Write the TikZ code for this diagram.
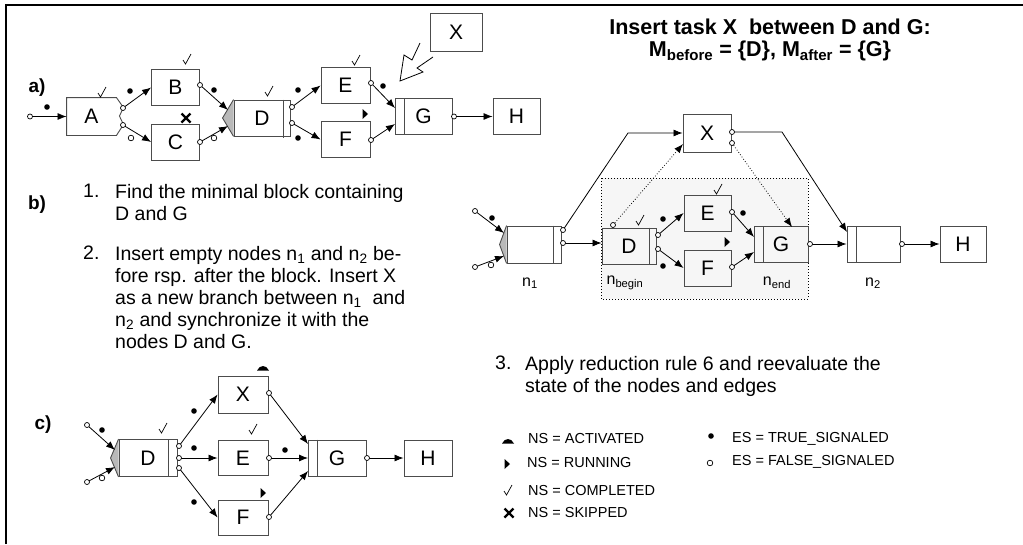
\documentclass[tikz,border=0pt]{standalone}
\usepackage{fontspec}
\setmainfont{Liberation Sans}
\usetikzlibrary{arrows.meta}

\tikzset{
  task/.style={draw=black!70, line width=0.9pt, inner sep=0pt, minimum width=48pt, minimum height=36pt, font=\fontsize{21}{21}\selectfont},
  flow/.style={line width=0.8pt, -{Latex[length=9pt,width=7pt]}},
  sync/.style={flow, dotted},
  bar/.style={draw=black!70, line width=0.9pt},
  wedge/.style={fill=gray!55, draw=black!70, line width=0.9pt},
  port/.style={draw=black, fill=white, line width=0.7pt},
  txt/.style={font=\fontsize{19.5}{22}\selectfont, inner sep=0pt, align=left, anchor=north west},
  lbl/.style={font=\bfseries\fontsize{19}{22}\selectfont, inner sep=0pt},
  headline/.style={font=\bfseries\fontsize{21.5}{26}\selectfont, inner sep=0pt},
  legend/.style={font=\fontsize{14.5}{16}\selectfont, inner sep=0pt, anchor=west},
  nlabel/.style={font=\fontsize{16}{16}\selectfont, inner sep=0pt},
  pics/tru/.style={code={\fill (0,0) circle [radius=2.8pt];}},
  pics/fal/.style={code={\draw[line width=0.7pt] (0,0) circle [radius=2.8pt];}},
  pics/done/.style={code={\draw[line width=0.7pt] (-4,0) -- (-1.5,4) -- (4,-6);}},
  pics/skip/.style={code={\draw[line width=2.2pt] (-4.5,-4.5) -- (4.5,4.5) (-4.5,4.5) -- (4.5,-4.5);}},
  pics/run/.style={code={\fill (-2.5,-5) -- (3,0) -- (-2.5,5) -- cycle;}},
  pics/act/.style={code={\fill (-6,2.5) .. controls (-3,-3.5) and (3,-3.5) .. (6,2.5) -- cycle;}}
}

\begin{document}
\begin{tikzpicture}[x=1pt, y=-1pt]
    \useasboundingbox (0,0) rectangle (1023,544);

    % frame
    \draw[line width=2.5pt] (6,544) -- (6,5) -- (1023,5);

    % ---------------- a) ----------------
    \node[lbl] (la) at (37,88) {a)};

    \coordinate (a0) at (30,116.5);
    \node[task, draw=none, minimum width=49pt, minimum height=37pt] (A) at (91.5,116.5) {A};
    \draw[bar] (A.north east) -- ++(7,10) -- ++(-4,8.5) -- ++(4,8.5) -- (A.south east) -- (A.south west) -- (A.north west) -- cycle;
    \node[task] (B) at (175.5,87.5) {B};
    \node[task] (C) at (175.5,142) {C};
    \node[task, minimum width=56pt] (Da) at (262,118) {D};
    \draw[bar] ([xshift=-7pt]Da.north east) -- ([xshift=-7pt,yshift=-2pt]Da.south east);
    \filldraw[wedge] (Da.north west) -- ([xshift=-11pt]Da.west) -- (Da.south west);
    \node[task, minimum width=49pt] (Ea) at (345.5,85.5) {E};
    \node[task, minimum width=49pt] (Fa) at (345.5,139.5) {F};
    \node[task, minimum width=57pt] (Ga) at (423.5,116.5) {G};
    \draw[bar] ([xshift=10pt]Ga.north west) -- ([xshift=10pt]Ga.south west);
    \node[task, minimum width=47pt] (Ha) at (516.5,116.5) {H};
    \node[task, minimum width=52pt, minimum height=38pt] (Xa) at (456,32) {X};

    % ports
    \coordinate (Ao1) at (123,108);
    \coordinate (Ao2) at (123,125);
    \coordinate (Bo) at (200,85);
    \coordinate (Co) at (200,142);
    \coordinate (Dai1) at (228,110);
    \coordinate (Dai2) at (228,126);
    \coordinate (Dao1) at (292,107);
    \coordinate (Dao2) at (292,123);
    \coordinate (Eao) at (371,83);
    \coordinate (Fao) at (371,140);
    \coordinate (Gai1) at (395,108);
    \coordinate (Gai2) at (395,124);
    \coordinate (Gao) at (454,116.5);

    % edges
    \draw[flow, shorten <=2.5pt] (a0) -- (A);
    \draw[flow] (Ao1) -- (B.west);
    \draw[flow] (Ao2) -- (C.west);
    \draw[flow] (Bo) -- (Dai1);
    \draw[flow] (Co) -- (Dai2);
    \draw[flow] (Dao1) -- (Ea.west);
    \draw[flow] (Dao2) -- (Fa.west);
    \draw[flow] (Eao) -- (Gai1);
    \draw[flow] (Fao) -- (Gai2);
    \draw[flow] (Gao) -- (Ha);
    \foreach \p in {a0,Ao1,Ao2,Bo,Co,Dao1,Dao2,Eao,Fao,Gao}
        \draw[port] (\p) circle [radius=2.5pt];

    % states
    \pic at (47,107) {tru};
    \pic at (130,91) {tru};
    \pic at (131,138) {fal};
    \pic at (214,90) {tru};
    \pic at (214,138) {fal};
    \pic at (298,90) {tru};
    \pic at (298,138) {tru};
    \pic at (383,86) {tru};
    \pic at (102,93) {done};
    \pic at (187,60) {done};
    \pic at (269,92) {done};
    \pic at (356,61) {done};
    \pic at (186,118) {skip};
    \pic at (365,114) {run};

    % hollow arrow
    \draw[line width=0.8pt] (420,43) -- (412,60) -- (404,55) -- (400,81) -- (423,72) -- (417,68) -- (433,57);

    % ---------------- b) ----------------
    \node[lbl] (lb) at (37,205) {b)};

    \node[txt] (s1n) at (83,184) {1.};
    \node[txt] (s1) at (115,184) {Find the minimal block containing\\D and G};
    \node[txt] (s2n) at (83,246) {2.};
    \node[txt] (s2) at (115,246) {Insert empty nodes n\textsubscript{1} and n\textsubscript{2} be-\\fore rsp. after the block. Insert X\\as a new branch between n\textsubscript{1}~ and\\n\textsubscript{2} and synchronize it with the\\nodes D and G.};

    \node[headline] (t1) at (770,27) {Insert task X~ between D and G:};
    \node[headline] (t2) at (770,51) {M\textsubscript{before} = \{D\}, M\textsubscript{after} = \{G\}};

    % block
    \draw[dotted, line width=1pt, fill=gray!7] (601,178) rectangle (808,299);

    \node[task, minimum width=54pt, minimum height=37pt] (n1) at (534,244.5) {};
    \draw[bar] ([xshift=-8pt]n1.north east) -- ([xshift=-8pt]n1.south east);
    \filldraw[wedge] (n1.north west) -- ([xshift=-7pt]n1.west) -- (n1.south west);
    \node[task, minimum width=48pt, minimum height=38pt] (Xb) at (707,133) {X};
    \node[task, minimum width=54pt] (Db) at (629,246) {D};
    \draw[bar] ([xshift=-7pt]Db.north east) -- ([xshift=-7pt]Db.south east);
    \node[task, minimum width=47pt] (Eb) at (707.5,213) {E};
    \node[task, minimum width=47pt] (Fb) at (707.5,268) {F};
    \node[task, minimum width=54pt] (Gb) at (781,244.5) {G};
    \draw[bar] ([xshift=10pt]Gb.north west) -- ([xshift=10pt]Gb.south west);
    \node[task, minimum width=53pt] (n2) at (873.5,244.5) {};
    \draw[bar] ([xshift=10pt]n2.north west) -- ([xshift=10pt]n2.south west);
    \node[task, minimum width=46pt] (Hb) at (963,244.5) {H};

    % ports
    \coordinate (n1s1) at (475,211);
    \coordinate (n1s2) at (475,267);
    \coordinate (n1i1) at (504,233);
    \coordinate (n1i2) at (504,256);
    \coordinate (n1o1) at (563,230);
    \coordinate (n1o2) at (563,243);
    \coordinate (n1b) at (628,133);
    \coordinate (Xbo1) at (732,132);
    \coordinate (Xbo2) at (732,143);
    \coordinate (Xbb) at (782,132);
    \coordinate (Xbi) at (683,144);
    \coordinate (Dbt) at (613,225);
    \coordinate (Dbo1) at (658,235);
    \coordinate (Dbo2) at (658,249);
    \coordinate (Ebo) at (732,212);
    \coordinate (Fbo) at (732,267);
    \coordinate (Gbi1) at (754,237);
    \coordinate (Gbi2) at (754,252);
    \coordinate (Gbt) at (792,227);
    \coordinate (Gbo) at (810,244);
    \coordinate (n2i) at (847,232);
    \coordinate (n2o) at (902,244);

    % edges
    \draw[flow, shorten <=2.5pt] (n1s1) -- (n1i1);
    \draw[flow, shorten <=2.5pt] (n1s2) -- (n1i2);
    \draw[flow] (n1o1) -- (n1b) -- (Xb);
    \draw[flow] (n1o2) -- (n1o2 -| Db.west);
    \draw[flow] (Xbo1) -- (Xbb) -- (n2i);
    \draw[sync] (Dbt) -- (Xbi);
    \draw[sync] (Xbo2) -- (Gbt);
    \draw[flow] (Dbo1) -- (Eb.west);
    \draw[flow] (Dbo2) -- (Fb.west);
    \draw[flow] (Ebo) -- (Gbi1);
    \draw[flow] (Fbo) -- (Gbi2);
    \draw[flow] (Gbo) -- (Gbo -| n2.west);
    \draw[flow] (n2o) -- (n2o -| Hb.west);
    \foreach \p in {n1s1,n1s2,n1o1,n1o2,Xbo1,Xbo2,Dbt,Dbo1,Dbo2,Ebo,Fbo,Gbo,n2o}
        \draw[port] (\p) circle [radius=2.5pt];

    % states
    \pic at (492,218) {tru};
    \pic at (491,265) {fal};
    \pic at (663,219) {tru};
    \pic at (663,266) {tru};
    \pic at (743,213) {tru};
    \pic at (640,221) {done};
    \pic at (718,190) {done};
    \pic at (727,242) {run};

    % labels
    \node[nlabel] (ln1) at (530,283) {n\textsubscript{1}};
    \node[nlabel] (lnb) at (625,283) {n\textsubscript{begin}};
    \node[nlabel] (lne) at (777,283) {n\textsubscript{end}};
    \node[nlabel] (ln2) at (873,283) {n\textsubscript{2}};

    % ---------------- c) ----------------
    \node[lbl] (lc) at (43,425) {c)};

    \node[task, minimum width=58pt, minimum height=37pt] (Dc) at (148,458) {D};
    \draw[bar] ([xshift=-9pt]Dc.north east) -- ([xshift=-9pt]Dc.south east);
    \filldraw[wedge] (Dc.north west) -- ([xshift=-8pt]Dc.west) -- (Dc.south west);
    \node[task, minimum width=50pt, minimum height=37pt] (Xc) at (243,394.5) {X};
    \node[task, minimum width=50pt, minimum height=35pt] (Ec) at (243,458) {E};
    \node[task, minimum width=50pt, minimum height=35pt] (Fc) at (243,517.5) {F};
    \node[task, minimum width=58pt] (Gc) at (337,458) {G};
    \draw[bar] ([xshift=10pt]Gc.north west) -- ([xshift=10pt]Gc.south west);
    \node[task] (Hc) at (428,458) {H};

    % ports
    \coordinate (Dcs1) at (87,425);
    \coordinate (Dcs2) at (87,482);
    \coordinate (Dci1) at (115,450);
    \coordinate (Dci2) at (115,467);
    \coordinate (Dco1) at (179,446);
    \coordinate (Dco2) at (179,458);
    \coordinate (Dco3) at (179,468);
    \coordinate (Xco) at (269,393);
    \coordinate (Eco) at (269,458);
    \coordinate (Fco) at (269,517);
    \coordinate (Gci1) at (308,444);
    \coordinate (Gci2) at (308,458);
    \coordinate (Gci3) at (308,471);
    \coordinate (Gco) at (367,458);

    % edges
    \draw[flow, shorten <=2.5pt] (Dcs1) -- (Dci1);
    \draw[flow, shorten <=2.5pt] (Dcs2) -- (Dci2);
    \draw[flow] (Dco1) -- (Xc.west);
    \draw[flow] (Dco2) -- (Ec.west);
    \draw[flow] (Dco3) -- (Fc.west);
    \draw[flow] (Xco) -- (Gci1);
    \draw[flow] (Eco) -- (Gci2);
    \draw[flow] (Fco) -- (Gci3);
    \draw[flow] (Gco) -- (Hc);
    \foreach \p in {Dcs1,Dcs2,Dco1,Dco2,Dco3,Xco,Eco,Fco,Gco}
        \draw[port] (\p) circle [radius=2.5pt];

    % states
    \pic at (102,430) {tru};
    \pic at (102,478) {fal};
    \pic at (194,411) {tru};
    \pic at (194,448) {tru};
    \pic at (194,502) {tru};
    \pic at (285,450) {tru};
    \pic at (163,429) {done};
    \pic at (253,430) {done};
    \pic at (263,368) {act};
    \pic at (263,493) {run};

    % ---------------- step 3 and legend ----------------
    \node[txt] (s3n) at (495,356) {3.};
    \node[txt] (s3) at (525,356) {Apply reduction rule 6 and reevaluate the\\state of the nodes and edges};

    \pic at (508,441) {act};
    \pic at (507,464) {run};
    \pic at (508,491) {done};
    \pic at (509,513) {skip};
    \pic at (711,436) {tru};
    \pic at (710,463) {fal};
    \node[legend] (ns1) at (528,439) {NS = ACTIVATED};
    \node[legend] (ns2) at (527,463) {NS = RUNNING};
    \node[legend] (ns3) at (528,491) {NS = COMPLETED};
    \node[legend] (ns4) at (528,513) {NS = SKIPPED};
    \node[legend] (es1) at (732,439) {ES = TRUE\_SIGNALED};
    \node[legend] (es2) at (732,462) {ES = FALSE\_SIGNALED};

\end{tikzpicture}
\end{document}
